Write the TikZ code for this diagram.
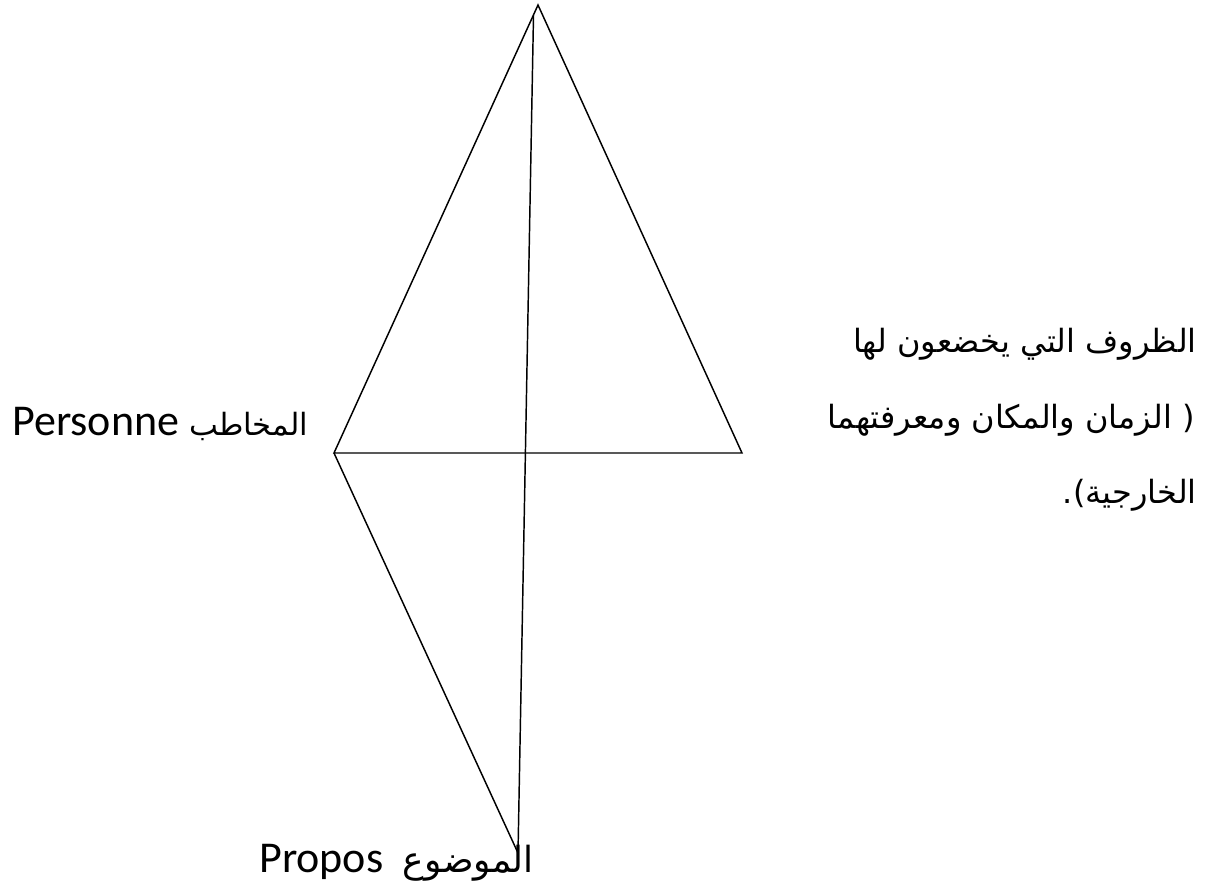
\documentclass[tikz,border=0pt]{standalone}
\usepackage{fontspec}
\setmainfont{Carlito}
\newfontfamily\arabicfont[Script=Arabic]{DejaVu Sans}
\TeXXeTstate=1
\usetikzlibrary{calc,positioning}

\begin{document}
\begin{tikzpicture}[x=0.75pt, y=-0.75pt,
    edge/.style={line width=1.1pt, line join=miter},
    latintext/.style={inner sep=0pt, font=\fontsize{33}{38}\selectfont},
    arabtext/.style={inner sep=0pt, font=\arabicfont\fontsize{24}{30}\selectfont}]
  \useasboundingbox (0,0) rectangle (1206,895);
  % corners
  \coordinate (apex) at (538,5);
  \coordinate (pers) at (334,453);
  \coordinate (circ) at (742,453);
  \coordinate (prop) at (518,853);
  \coordinate (axis) at ($(apex)!0.022!(pers)$);
  % triangle and its axis
  \draw[edge] (apex) -- (circ) -- (pers) -- cycle;
  \draw[edge] (pers) -- (prop);
  \draw[edge] (axis) -- (prop);
  % labels
  \node[latintext, anchor=base west] (personne) at (12,435)
    {\hbox to 222pt{Personne\hfill{\arabicfont\fontsize{23}{30}\selectfont المخاطب}}};
  \node[latintext, anchor=base west] (propos) at (259,872)
    {\hbox to 206pt{Propos\hfill{\arabicfont\fontsize{27}{30}\selectfont الموضوع}}};
  \node[arabtext, anchor=base east] (circ1) at (1197,352)
    {\beginR الظروف التي يخضعون لها\endR};
  \node[arabtext, anchor=base east] (circ2) at (1195,428)
    {\beginR\hbox{(} الزمان والمكان ومعرفتهما\endR};
  \node[arabtext, anchor=base east] (circ3) at (1197,503)
    {\hbox{.}\hbox{)}\hbox{الخارجية}};
\end{tikzpicture}
\end{document}
